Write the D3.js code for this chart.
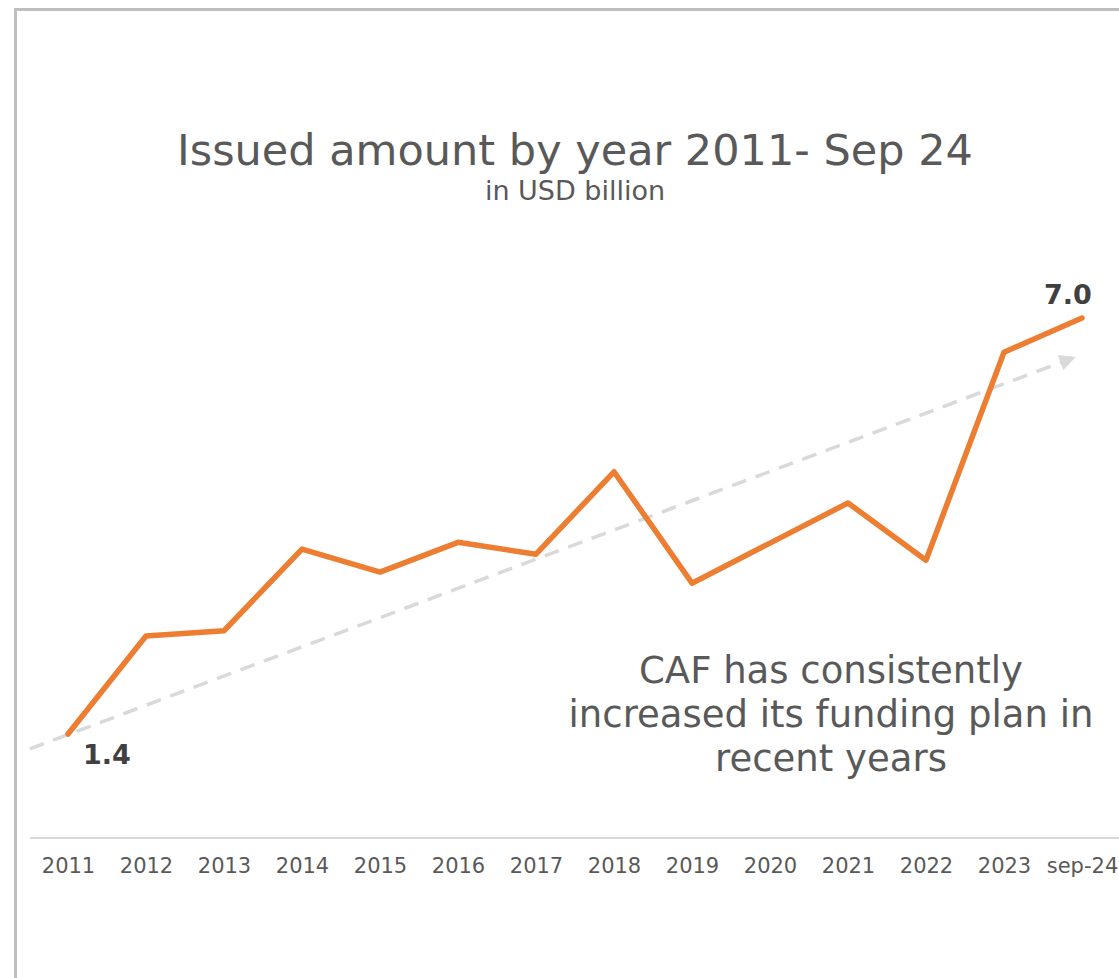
<!DOCTYPE html>
<html>
<head>
<meta charset="utf-8">
<script src="https://cdn.jsdelivr.net/npm/d3@7"></script>
<style>
  html, body { margin: 0; padding: 0; background: #ffffff; }
  svg { display: block; font-family: "DejaVu Sans", Verdana, sans-serif; }
</style>
</head>
<body>
<svg id="chart" width="1119" height="978"></svg>
<script>
// Issued amount per year, USD billion
const categories = ["2011", "2012", "2013", "2014", "2015", "2016", "2017",
                    "2018", "2019", "2020", "2021", "2022", "2023", "sep-24"];
const issued = [1.4, 2.72, 2.79, 3.89, 3.58, 3.98, 3.82,
                4.93, 3.43, 3.97, 4.51, 3.74, 6.54, 7.0];
// Labelled points (first and last)
const labelledIdx = [0, 13];
// Trend arrow, as [category index, value] at tail and head
const trendTail = [-0.49, 1.2];
const trendHead = [12.88, 6.46];

const titleText = "Issued amount by year 2011- Sep 24";
const subtitleText = "in USD billion";
const noteLines = ["CAF has consistently", "increased its funding plan in", "recent years"];

const svg = d3.select("#chart");
const W = 1119, H = 978;

const x = d3.scaleLinear().domain([0, categories.length - 1]).range([68, 1082]);
const y = d3.scaleLinear().domain([0, 7]).range([838, 318]);

// outer frame
svg.append("rect")
  .attr("x", 15.5).attr("y", 9.5)
  .attr("width", W + 20).attr("height", H + 20)
  .attr("fill", "none").attr("stroke", "#bfbfbf").attr("stroke-width", 3);

// title and subtitle
svg.append("text")
  .attr("x", 575).attr("y", 165)
  .attr("text-anchor", "middle")
  .attr("font-size", 43).attr("fill", "#595959")
  .text(titleText);
svg.append("text")
  .attr("x", 575).attr("y", 200)
  .attr("text-anchor", "middle")
  .attr("font-size", 27).attr("fill", "#595959")
  .text(subtitleText);

// category axis
const xAxis = d3.axisBottom(x)
  .tickValues(d3.range(categories.length))
  .tickFormat(i => categories[i])
  .tickSize(0).tickPadding(20);
const axisG = svg.append("g").attr("transform", `translate(0,${y(0)})`).call(xAxis);
axisG.select(".domain").remove();
axisG.selectAll("text")
  .attr("font-size", 21).attr("fill", "#595959")
  .attr("font-family", "DejaVu Sans, Verdana, sans-serif");
svg.append("line")
  .attr("x1", 30).attr("x2", W)
  .attr("y1", y(0)).attr("y2", y(0))
  .attr("stroke", "#d9d9d9").attr("stroke-width", 2);

// trend arrow
svg.append("defs").append("marker")
  .attr("id", "arrow")
  .attr("viewBox", "0 0 10 10")
  .attr("refX", 8).attr("refY", 5)
  .attr("markerUnits", "userSpaceOnUse")
  .attr("markerWidth", 18).attr("markerHeight", 16)
  .attr("orient", "auto")
  .append("path")
  .attr("d", "M0,0 L10,5 L0,10 Z")
  .attr("fill", "#d9d9d9");
svg.append("line")
  .attr("x1", x(trendTail[0])).attr("y1", y(trendTail[1]))
  .attr("x2", x(trendHead[0])).attr("y2", y(trendHead[1]))
  .attr("stroke", "#d9d9d9").attr("stroke-width", 3.5)
  .attr("stroke-dasharray", "15,10")
  .attr("marker-end", "url(#arrow)");

// issued amount line
const line = d3.line().x((d, i) => x(i)).y(d => y(d));
svg.append("path")
  .datum(issued)
  .attr("d", line)
  .attr("fill", "none")
  .attr("stroke", "#ED7D31").attr("stroke-width", 5.5)
  .attr("stroke-linejoin", "round").attr("stroke-linecap", "round");

// value labels
const labelOffsets = { 0: [39, 30], 13: [-14, -14] };
svg.selectAll(".val")
  .data(labelledIdx)
  .enter().append("text")
  .attr("class", "val")
  .attr("x", i => x(i) + labelOffsets[i][0])
  .attr("y", i => y(issued[i]) + labelOffsets[i][1])
  .attr("text-anchor", "middle")
  .attr("font-size", 27).attr("font-weight", "bold").attr("fill", "#404040")
  .text(i => d3.format(".1f")(issued[i]));

// annotation
svg.append("text")
  .attr("x", 831).attr("y", 683)
  .attr("text-anchor", "middle")
  .attr("font-size", 37).attr("fill", "#595959")
  .selectAll("tspan")
  .data(noteLines)
  .enter().append("tspan")
  .attr("x", 831)
  .attr("dy", (d, i) => i === 0 ? 0 : 44)
  .text(d => d);
</script>
</body>
</html>
